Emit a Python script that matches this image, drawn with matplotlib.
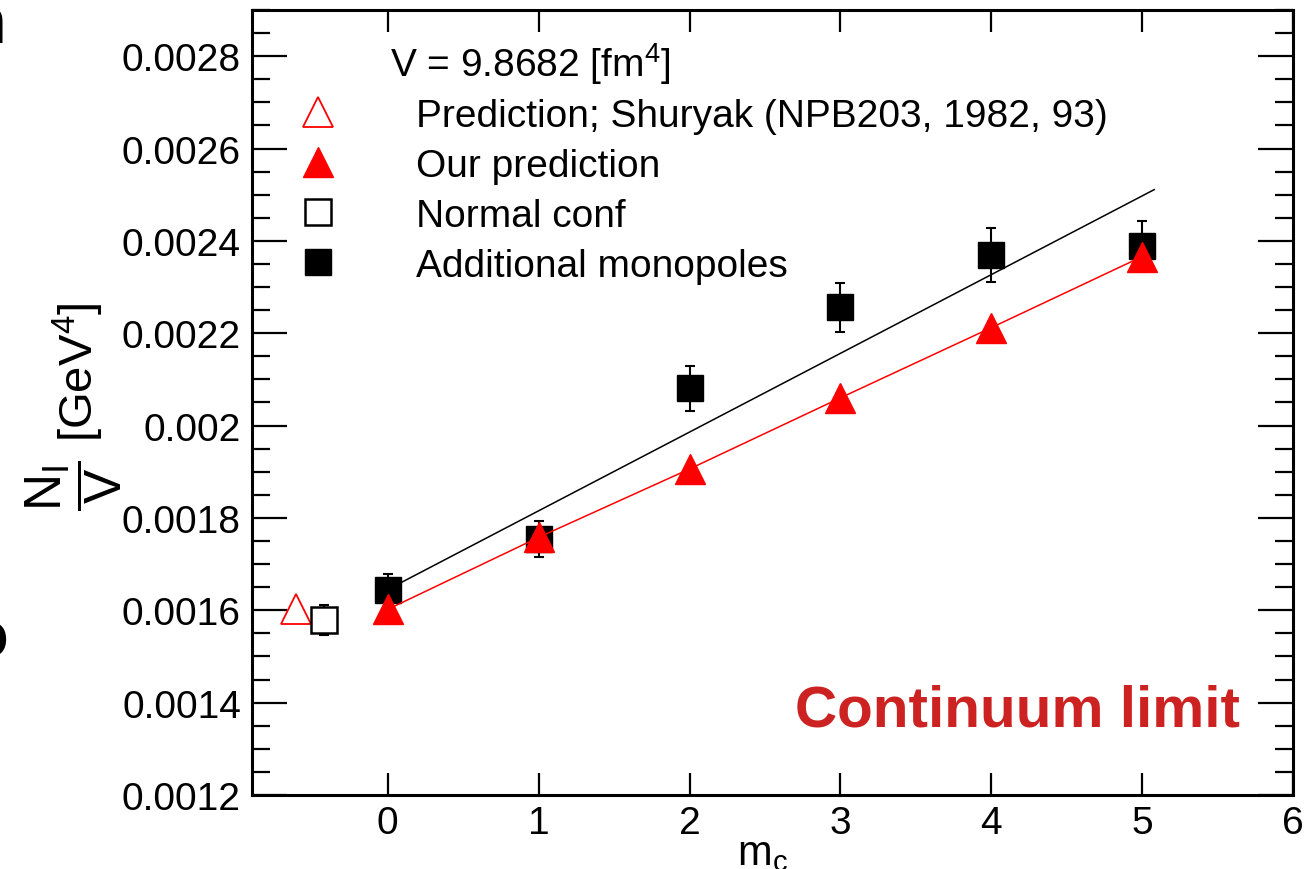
import numpy as np
import matplotlib
matplotlib.use('Agg')
import matplotlib.pyplot as plt
from matplotlib.ticker import MultipleLocator, FuncFormatter

plt.rcParams['font.family'] = ['Liberation Sans', 'DejaVu Sans']
plt.rcParams['mathtext.fontset'] = 'custom'
plt.rcParams['mathtext.rm'] = 'Liberation Sans'
plt.rcParams['mathtext.it'] = 'Liberation Sans'
plt.rcParams['mathtext.bf'] = 'Liberation Sans:bold'

#### ========== data ==========

mc = [0, 1, 2, 3, 4, 5]

# additional monopoles (filled squares) with errors
nI_mono     = [0.001643, 0.001754, 0.002081, 0.002256, 0.002369, 0.002388]
nI_mono_err = [0.000036, 0.000039, 0.000049, 0.000053, 0.000058, 0.000056]

# our prediction (filled red triangles)
nI_pred = [0.001602, 0.001758, 0.001906, 0.002060, 0.002212, 0.002366]

# normal configuration (open square) and Shuryak prediction (open triangle)
mc_normal     = [-0.42]
nI_normal     = [0.001579]
nI_normal_err = [0.000032]

mc_shuryak = [-0.61]
nI_shuryak = [0.001602]

# linear fit through the monopole data
fit_x = [0.0, 5.08]
fit_y = [0.001645, 0.002511]

volume_label = r'V = 9.8682 [fm$^4$]'

#### ================================================

fig = plt.figure( figsize = ( 13.12, 8.70 ), dpi = 100 )
ax  = fig.add_axes( [ 252/1312, 1 - 796/870, 1041/1312, 785/870 ] )

red = '#ff0000'

# error bars (no legend entry)
ax.errorbar( mc, nI_mono, yerr = nI_mono_err, fmt = 'none', ecolor = 'k',
             elinewidth = 1.5, capsize = 3.5, capthick = 1.5, zorder = 2 )
ax.errorbar( mc_normal, nI_normal, yerr = nI_normal_err, fmt = 'none',
             ecolor = 'k', elinewidth = 1.5, capsize = 3.5, capthick = 1.5,
             zorder = 2 )

h_shur, = ax.plot( mc_shuryak, nI_shuryak, ls = 'none', marker = '^',
                   ms = 22, mfc = 'white', mec = red, mew = 1.3, zorder = 3 )
h_norm, = ax.plot( mc_normal, nI_normal, ls = 'none', marker = 's',
                   ms = 18.5, mfc = 'white', mec = 'k', mew = 1.8, zorder = 3 )
h_mono, = ax.plot( mc, nI_mono, ls = 'none', marker = 's', ms = 18.5,
                   mfc = 'k', mec = 'k', zorder = 3 )

ax.plot( fit_x, fit_y, '-', color = 'k', lw = 1.1, zorder = 4 )
ax.plot( mc, nI_pred, '-', color = red, lw = 1.1, zorder = 4 )
h_pred, = ax.plot( mc, nI_pred, ls = 'none', marker = '^', ms = 22,
                   mfc = red, mec = red, zorder = 5 )

ax.set_xlim( -0.9, 6.0 )
ax.set_ylim( 0.0012, 0.0029 )

ax.xaxis.set_major_locator( MultipleLocator( 1 ) )
ax.yaxis.set_major_locator( MultipleLocator( 0.0002 ) )
ax.yaxis.set_minor_locator( MultipleLocator( 0.00005 ) )
ax.yaxis.set_major_formatter( FuncFormatter( lambda v, p: '{:g}'.format( round( v, 6 ) ) ) )

ax.tick_params( axis = 'both', which = 'both', direction = 'in',
                top = True, right = True, labelsize = 28, width = 1.6,
                color = 'k' )
ax.tick_params( axis = 'y', which = 'major', length = 25, pad = 8 )
ax.tick_params( axis = 'y', which = 'minor', length = 13 )
ax.tick_params( axis = 'x', which = 'major', length = 16, pad = 7 )
for s in ax.spines.values():
    s.set_linewidth( 2.2 )

ax.set_xlabel( r'm$_\mathrm{c}$', fontsize = 30 )
ax.xaxis.set_label_coords( 0.49, -0.048 )
ax.xaxis.label.set_va( 'top' )

# y label: full size fraction followed by the unit
fig.text( 74/1312, 1 - 486/870, r'$\dfrac{\mathrm{N_I}}{\mathrm{V}}$',
          fontsize = 37, rotation = 90, ha = 'center', va = 'center' )
fig.text( 78/1312, 1 - 372/870, r'[GeV$^4$]',
          fontsize = 34, rotation = 90, ha = 'center', va = 'center' )

ax.text( 0.1326, 0.916, volume_label, transform = ax.transAxes,
         fontsize = 28, ha = 'left', va = 'baseline' )

leg = ax.legend( [ h_shur, h_pred, h_norm, h_mono ],
                 [ 'Prediction; Shuryak (NPB203, 1982, 93)',
                   'Our prediction', 'Normal conf', 'Additional monopoles' ],
                 loc = 'upper left', bbox_to_anchor = ( 0.026, 0.888 ),
                 frameon = False, fontsize = 28, handlelength = 2.0,
                 handletextpad = 1.52, labelspacing = 0.36, borderpad = 0,
                 borderaxespad = 0, numpoints = 1 )

ax.text( 0.949, 0.0879, 'Continuum limit', transform = ax.transAxes,
         fontsize = 42, fontweight = 'bold', color = '#cc2222',
         ha = 'right', va = 'baseline' )

# fragments of neighbouring panel text cut by the image edge
fig.text( 6/1312, 1 - 43/870, 'n', fontsize = 48, fontweight = 'bold',
          ha = 'right', va = 'baseline' )
fig.text( 8/1312, 1 - 658/870, 'o', fontsize = 48, fontweight = 'bold',
          ha = 'right', va = 'baseline' )

plt.savefig( 'out.png', dpi = 100 )
plt.close()
